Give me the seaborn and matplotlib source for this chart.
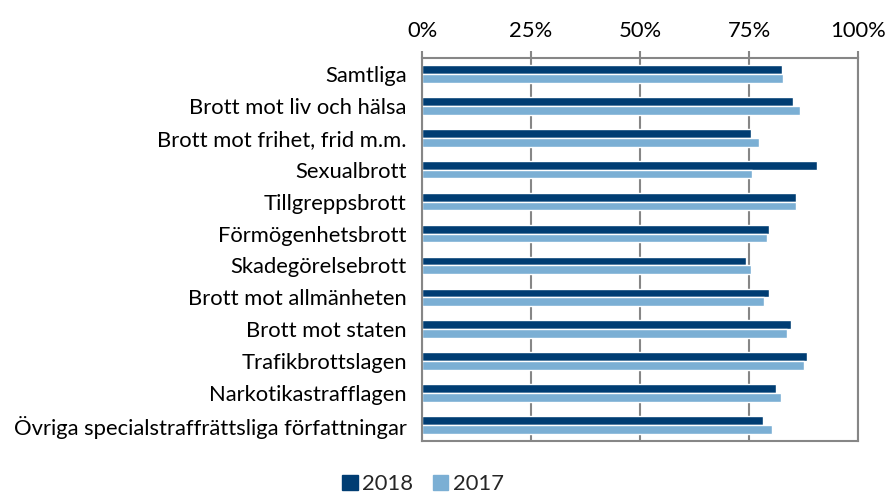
import pandas as pd
import matplotlib.pyplot as plt
import seaborn as sns

kategorier = ["Samtliga", "Brott mot liv och hälsa", "Brott mot frihet, frid m.m.",
              "Sexualbrott", "Tillgreppsbrott", "Förmögenhetsbrott", "Skadegörelsebrott",
              "Brott mot allmänheten", "Brott mot staten", "Trafikbrottslagen",
              "Narkotikastrafflagen", "Övriga specialstraffrättsliga författningar"]
andel_2018 = [82.5, 85.1, 75.4, 90.7, 85.8, 79.6, 74.4, 79.7, 84.7, 88.3, 81.1, 78.1]
andel_2017 = [82.9, 86.8, 77.4, 75.8, 85.7, 79.2, 75.5, 78.5, 83.8, 87.7, 82.3, 80.3]
ar = ["2018", "2017"]

df = pd.DataFrame({
    "kategori": kategorier * 2,
    "andel": andel_2018 + andel_2017,
    "ar": [ar[0]] * len(kategorier) + [ar[1]] * len(kategorier),
})

sns.set_style("white")
plt.rcParams["font.family"] = ["Lato", "DejaVu Sans"]

fig = plt.figure(figsize=(8.87, 4.93), dpi=100)
ax = fig.add_axes([0.4758, 0.1055, 0.4915, 0.7769])

sns.barplot(data=df, y="kategori", x="andel", hue="ar", hue_order=ar,
            palette=["#003D73", "#7BAFD4"], width=0.55, orient="h", ax=ax,
            saturation=1, legend=False)

gra = "#868686"
fs = 15.8
ax.set_xlim(0, 100)
ax.set_ylim(len(kategorier) - 0.5, -0.5)
ax.xaxis.tick_top()
ax.set_xticks([0, 25, 50, 75, 100])
ax.set_xticklabels(["0%", "25%", "50%", "75%", "100%"])
ax.tick_params(axis="x", which="major", direction="out", length=5, width=1.5,
               color=gra, labelsize=fs, pad=7, labelcolor="black")
ax.set_yticks(range(len(kategorier)))
ax.set_yticklabels(kategorier)
ax.tick_params(axis="y", which="major", length=0, labelsize=fs, pad=11, labelcolor="black")
ax.set_yticks([i + 0.5 for i in range(-1, len(kategorier))], minor=True)
ax.tick_params(axis="y", which="minor", direction="out", length=6, width=1.5, color=gra)
ax.set_xlabel("")
ax.set_ylabel("")
for s in ax.spines.values():
    s.set_color(gra)
    s.set_linewidth(1.5)
    s.set_visible(True)
ax.grid(axis="x", color=gra, linewidth=1.5)
ax.set_axisbelow(True)

handles = [plt.Rectangle((0, 0), 1, 1, color=c) for c in ["#003D73", "#7BAFD4"]]
fig.legend(handles, ar, loc="center", bbox_to_anchor=(0.477, 0.018), ncol=2,
           frameon=False, fontsize=fs, handlelength=0.7, handleheight=0.7,
           handletextpad=0.2, columnspacing=0.9, borderpad=0.0)

plt.savefig("out.png", dpi=100)
